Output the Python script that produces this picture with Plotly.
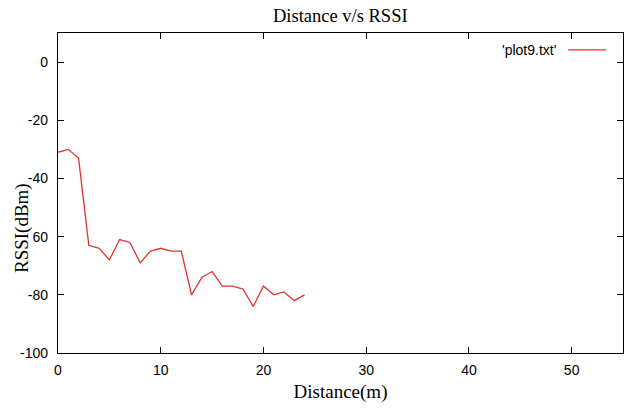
import plotly.graph_objects as go

distance = list(range(0, 25))
rssi = [-31, -30, -33, -63, -64, -68, -61, -62, -69, -65, -64, -65, -65,
        -80, -74, -72, -77, -77, -78, -84, -77, -80, -79, -82, -80]
x_ticks = [0, 10, 20, 30, 40, 50]
y_ticks = [-100, -80, -60, -40, -20, 0]
y_tick_labels = ["-100", "-80", "-60", "-40", "-20", "0"]
series_name = "'plot9.txt'"

fig = go.Figure()
fig.add_trace(go.Scatter(x=distance, y=rssi, mode="lines",
                         line=dict(color="#e0342f", width=1.3),
                         name=series_name, showlegend=False))

axis_common = dict(showgrid=False, zeroline=False, showline=True, linecolor="black",
                   linewidth=1.2, mirror="ticks", ticks="inside", ticklen=6,
                   tickcolor="black", tickwidth=1, automargin=False,
                   tickfont=dict(family="Liberation Sans", size=14, color="black"))

fig.update_layout(
    width=636, height=408,
    margin=dict(l=58, r=13, t=33, b=55),
    paper_bgcolor="white", plot_bgcolor="white",
    title=dict(text="Distance v/s RSSI", x=0.535, xanchor="center", y=0.962, yanchor="middle",
               font=dict(family="Liberation Serif", size=18.5, color="black")),
    xaxis=dict(range=[0, 55], tickvals=x_ticks, ticklabelstandoff=4,
               title=dict(text="Distance(m)", standoff=7,
                          font=dict(family="Liberation Serif", size=19, color="black")),
               **axis_common),
    yaxis=dict(range=[-100, 10], tickvals=y_ticks, ticktext=y_tick_labels,
               ticklabelstandoff=6, **axis_common),
    showlegend=False,
)

# y-axis title placed like gnuplot (overlapping the tick label column)
fig.add_annotation(x=-0.064, y=0.39, xref="paper", yref="paper", text="RSSI(dBm)",
                   showarrow=False, textangle=-90, xanchor="center", yanchor="middle",
                   bgcolor="white", borderpad=0,
                   font=dict(family="Liberation Serif", size=19, color="black"))

# gnuplot-style key: label text followed by the line sample
fig.add_annotation(x=0.885, y=0.947, xref="paper", yref="paper", text=series_name,
                   showarrow=False, xanchor="right", yanchor="middle",
                   font=dict(family="Liberation Sans", size=14, color="black"))
fig.add_shape(type="line", xref="paper", yref="paper", x0=0.903, x1=0.97, y0=0.947, y1=0.947,
              line=dict(color="#e0342f", width=1.3))

fig.write_html("out.html", config={"displayModeBar": False},
               post_script="document.body.style.margin='0px';")
